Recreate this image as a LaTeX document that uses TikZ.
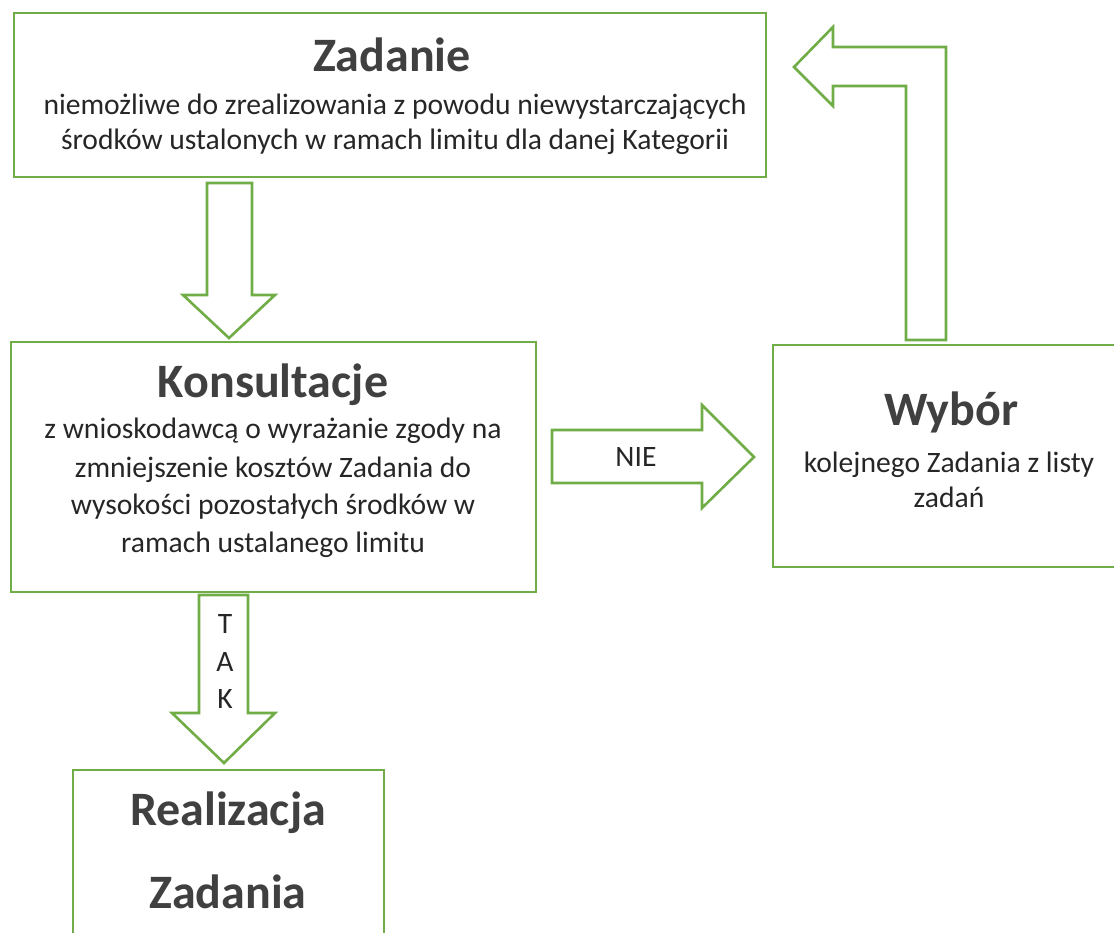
\documentclass[tikz,border=0pt]{standalone}
\usepackage{fontspec}
\setmainfont{Carlito}
\definecolor{boxgreen}{HTML}{70AD47}
\definecolor{headgray}{HTML}{404040}
\definecolor{bodygray}{HTML}{262626}
\begin{document}
\begin{tikzpicture}[x=1pt,y=-1pt,
  box/.style={draw=boxgreen, line width=2.6pt, inner sep=0pt},
  blockarrow/.style={draw=boxgreen, line width=2.6pt, line join=miter, fill=white},
  headtxt/.style={font=\fontsize{48}{48}\selectfont\bfseries, text=headgray, anchor=base, inner sep=0pt},
  bodytxt/.style={font=\fontsize{29.6}{29.6}\selectfont, text=bodygray, anchor=base, inner sep=0pt}]
\useasboundingbox (0,0) rectangle (1114,933);
\clip (0,0) rectangle (1114,933);

% boxes
\node[box, minimum width=752pt, minimum height=164pt] (zad) at (390,95) {};
\node[box, minimum width=525pt, minimum height=250pt] (kons) at (273.5,467) {};
\node[box, minimum width=357pt, minimum height=222pt] (wyb) at (951.5,456) {};
\node[box, minimum width=311pt, minimum height=190pt] (real) at (228.5,865) {};

% block arrows
\draw[blockarrow] (207,183) -- (252,183) -- (252,295) -- (275,295) -- (229,338) -- (183,295) -- (207,295) -- cycle;
\draw[blockarrow] (552,430) -- (702,430) -- (702,405) -- (754,457) -- (702,508) -- (702,483) -- (552,483) -- cycle;
\draw[blockarrow] (906,340) -- (906,86) -- (833,86) -- (833,106) -- (794,67) -- (833,27) -- (833,47) -- (946,47) -- (946,340) -- cycle;
\draw[blockarrow] (199,595) -- (248,595) -- (248,713) -- (275,713) -- (224,763) -- (172,713) -- (199,713) -- cycle;

% texts
\node[headtxt] (zadh) at (392,72) {Zadanie};
\node[bodytxt] (zad1) at (395,115) {niemożliwe do zrealizowania z powodu niewystarczających};
\node[bodytxt] (zad2) at (395,150) {środków ustalonych w ramach limitu dla danej Kategorii};

\node[headtxt] (konsh) at (273,397) {Konsultacje};
\node[bodytxt] (kons1) at (273,438) {z wnioskodawcą o wyrażanie zgody na};
\node[bodytxt] (kons2) at (273,477) {zmniejszenie kosztów Zadania do};
\node[bodytxt] (kons3) at (273,514) {wysokości pozostałych środków w};
\node[bodytxt] (kons4) at (273,552) {ramach ustalanego limitu};

\node[headtxt] (wybh) at (951,425) {Wybór};
\node[bodytxt] (wyb1) at (949,472) {kolejnego Zadania z listy};
\node[bodytxt] (wyb2) at (949,507) {zadań};

\node[bodytxt] (nie) at (636,466) {NIE};
\node[bodytxt] (t) at (225,633) {T};
\node[bodytxt] (a) at (225,671) {A};
\node[bodytxt] (k) at (225,708) {K};

\node[headtxt] (realh) at (228,825) {Realizacja};
\node[headtxt] (real2) at (228,908) {Zadania};
\end{tikzpicture}
\end{document}
